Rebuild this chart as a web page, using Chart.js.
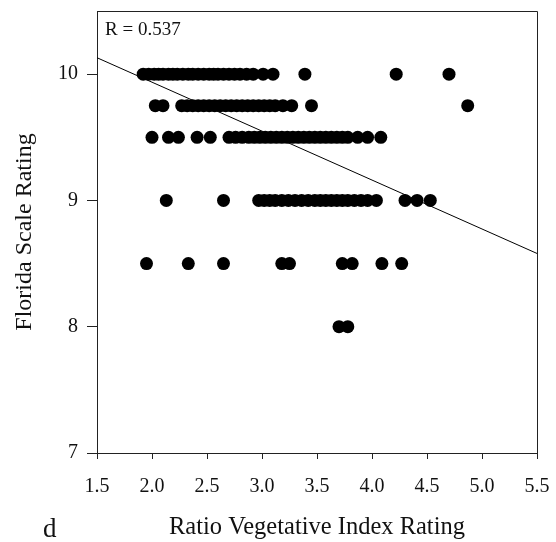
<!DOCTYPE html>
<html>
<head>
<meta charset="utf-8">
<script src="https://cdn.jsdelivr.net/npm/chart.js@4.4.1/dist/chart.umd.min.js"></script>
<style>
  html, body { margin: 0; padding: 0; background: #fff; }
  #wrap { width: 556px; height: 542px; }
</style>
</head>
<body>
<div id="wrap"><canvas id="scatterChart" width="556" height="542"></canvas></div>
<script>
// Ratio vegetative index (x) grouped by Florida scale rating (y)
const rvi100 = [1.92, 1.97, 2.02, 2.06, 2.10, 2.15, 2.19, 2.23, 2.28, 2.33, 2.37, 2.42, 2.47, 2.52,
                2.56, 2.60, 2.65, 2.70, 2.75, 2.80, 2.86, 2.92, 3.01, 3.10, 3.39, 4.22, 4.70];
const rvi975 = [2.03, 2.10, 2.27, 2.32, 2.37, 2.42, 2.47, 2.52, 2.57, 2.62, 2.67, 2.72, 2.77, 2.82,
                2.87, 2.92, 2.97, 3.02, 3.07, 3.12, 3.19, 3.27, 3.45, 4.87];
const rvi950 = [2.00, 2.15, 2.24, 2.41, 2.53, 2.70, 2.76, 2.82, 2.88, 2.93, 2.98, 3.03, 3.08, 3.13,
                3.18, 3.23, 3.28, 3.33, 3.38, 3.43, 3.48, 3.53, 3.58, 3.63, 3.68, 3.73, 3.78, 3.87,
                3.96, 4.08];
const rvi900 = [2.13, 2.65, 2.97, 3.02, 3.07, 3.12, 3.18, 3.24, 3.30, 3.36, 3.42, 3.48, 3.53, 3.58,
                3.63, 3.68, 3.73, 3.78, 3.84, 3.90, 3.96, 4.04, 4.30, 4.41, 4.53];
const rvi850 = [1.95, 2.33, 2.65, 3.18, 3.25, 3.73, 3.82, 4.09, 4.27];
const rvi800 = [3.70, 3.78];

const ratingLevels = [10, 9.75, 9.5, 9, 8.5, 8];
const rviByLevel = [rvi100, rvi975, rvi950, rvi900, rvi850, rvi800];

// fitted line end points
const fitX = [1.5, 5.5];
const fitY = [10.13, 8.58];
const rLabel = 'R = 0.537';

const xTicks = [1.5, 2.0, 2.5, 3.0, 3.5, 4.0, 4.5, 5.0, 5.5];
const yTicks = [7, 8, 9, 10];

const serif = "'Liberation Serif', 'Times New Roman', serif";
const ink = '#111';

const points = [];
rviByLevel.forEach((xs, i) => {
    xs.forEach(x => points.push({ x: x, y: ratingLevels[i] }));
});

// box frame, R value and panel letter
const extras = {
    id: 'extras',
    afterDraw(chart) {
        const { ctx, chartArea: a } = chart;
        ctx.save();
        ctx.strokeStyle = '#222';
        ctx.lineWidth = 1;
        ctx.beginPath();
        ctx.moveTo(a.left + 0.5, a.top + 0.5);
        ctx.lineTo(a.right + 0.5, a.top + 0.5);
        ctx.lineTo(a.right + 0.5, a.bottom);
        ctx.stroke();

        ctx.fillStyle = ink;
        ctx.textBaseline = 'alphabetic';
        ctx.textAlign = 'left';
        ctx.font = '19px ' + serif;
        ctx.fillText(rLabel, 105, 35);
        ctx.font = '27px ' + serif;
        ctx.fillText('d', 43, 537);
        ctx.restore();
    }
};

new Chart(document.getElementById('scatterChart'), {
    type: 'scatter',
    data: {
        datasets: [{
            data: points,
            backgroundColor: '#000',
            borderWidth: 0,
            pointRadius: 6.5,
            pointHoverRadius: 6.5
        }, {
            type: 'line',
            data: fitX.map((x, i) => ({ x: x, y: fitY[i] })),
            borderColor: '#000',
            borderWidth: 1,
            pointRadius: 0,
            fill: false
        }]
    },
    options: {
        responsive: false,
        animation: false,
        layout: { padding: { top: 11, right: 19, left: 0, bottom: 0 } },
        plugins: { legend: { display: false }, tooltip: { enabled: false } },
        scales: {
            x: {
                type: 'linear',
                min: 1.5,
                max: 5.5,
                afterFit: s => { s.height = 89; s.paddingLeft = 0; s.paddingRight = 0; },
                afterBuildTicks: s => { s.ticks = xTicks.map(v => ({ value: v })); },
                grid: { drawOnChartArea: false, tickLength: 6, color: '#222' },
                border: { color: '#222', width: 1 },
                ticks: {
                    color: ink,
                    font: { family: serif, size: 20 },
                    padding: 16,
                    maxRotation: 0,
                    callback: v => v.toFixed(1)
                },
                title: {
                    display: true,
                    text: 'Ratio Vegetative Index Rating',
                    color: ink,
                    font: { family: serif, size: 24.5 },
                    padding: { top: 0, bottom: 0 }
                }
            },
            y: {
                min: 7,
                max: 10.5,
                afterFit: s => { s.width = 97; s.paddingTop = 0; s.paddingBottom = 0; },
                afterBuildTicks: s => { s.ticks = yTicks.map(v => ({ value: v })); },
                grid: { drawOnChartArea: false, tickLength: 10, color: '#222' },
                border: { color: '#222', width: 1 },
                ticks: {
                    color: ink,
                    font: { family: serif, size: 20 },
                    padding: 9
                },
                title: {
                    display: true,
                    text: 'Florida Scale Rating',
                    color: ink,
                    font: { family: serif, size: 24 },
                    padding: { top: 10, bottom: 0 }
                }
            }
        }
    },
    plugins: [extras]
});
</script>
</body>
</html>
